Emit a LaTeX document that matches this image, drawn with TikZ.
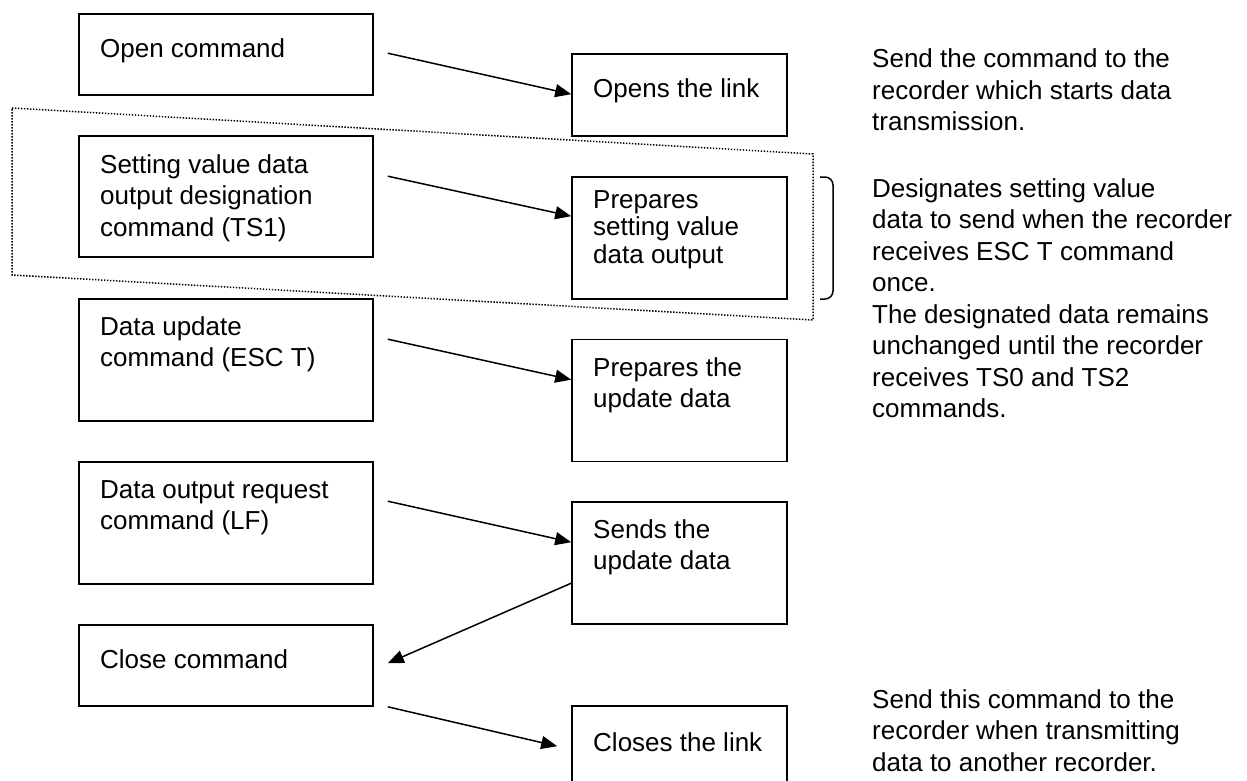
\documentclass[tikz,border=0pt]{standalone}
\usepackage{fontspec}
\setmainfont{Liberation Sans}
\usetikzlibrary{arrows.meta,calc}
\begin{document}
\begin{tikzpicture}[x=1pt,y=-1pt,
  box/.style={draw, line width=1.6pt, inner sep=0pt},
  lbox/.style={box, minimum width=294pt},
  rbox/.style={box, minimum width=215pt},
  txt/.style={anchor=base west, inner sep=0pt, align=left, font=\fontsize{26}{31.5}\selectfont},
  tighttxt/.style={txt, font=\fontsize{26}{27.5}\selectfont},
  conn/.style={line width=1.5pt, -{Triangle[length=16pt,width=13pt]}},
  dotbox/.style={line width=1.5pt, dash pattern=on 1.4pt off 1.6pt},
]
\useasboundingbox (0,0) rectangle (1247,781);
\clip (0,0) rectangle (1247,781);

% left boxes
\node[lbox, minimum height=81pt]  (L1) at (226,54.5) {};
\node[lbox, minimum height=121pt] (L2) at (226,196.5) {};
\node[lbox, minimum height=122pt] (L3) at (226,360) {};
\node[lbox, minimum height=122pt] (L4) at (226,523) {};
\node[lbox, minimum height=81pt]  (L5) at (226,665.5) {};
% right boxes
\node[rbox, minimum height=82pt]  (R1) at (679.5,95) {};
\node[rbox, minimum height=122pt] (R2) at (679.5,238) {};
\node[rbox, minimum height=122pt] (R3) at (679.5,400.5) {};
\node[rbox, minimum height=122pt] (R4) at (679.5,563) {};
\node[rbox, minimum height=81pt]  (R5) at (679.5,746.5) {};

% texts in left boxes (anchor = baseline of last line)
\node[txt] (tL1) at (100,58) {Open command};
\node[txt] (tL2) at (100,236) {Setting value data\\output designation\\command (TS1)};
\node[txt] (tL3) at (100,366.5) {Data update\\command (ESC T)};
\node[txt] (tL4) at (100,529.5) {Data output request\\command (LF)};
\node[txt] (tL5) at (100,668) {Close command};
% texts in right boxes
\node[txt] (tR1) at (593,98) {Opens the link};
\node[tighttxt] (tR2) at (593,263) {Prepares\\setting value\\data output};
\node[txt] (tR3) at (593,407.5) {Prepares the\\update data};
\node[txt] (tR4) at (593,569.5) {Sends the\\update data};
\node[txt] (tR5) at (593,751) {Closes the link};

% annotations
\node[txt] (n1) at (872,131) {Send the command to the\\recorder which starts data\\transmission.};
\node[txt] (n2) at (872,417.5) {Designates setting value\\data to send when the recorder\\receives ESC T command\\once.\\The designated data remains\\unchanged until the recorder\\receives TS0 and TS2\\commands.};
\node[txt] (n3) at (872,771) {Send this command to the\\recorder when transmitting\\data to another recorder.};

% dotted group
\draw[dotbox] (12,108) -- (813,154) -- (813,320) -- (12,275) -- cycle;
% bracket
\draw[line width=1.5pt, rounded corners=8pt] (820,177) -- (833,177) -- (833,299) -- (820,299);

% connectors
\draw[conn] ($(L1.north east)+(14,40)$) -- ($(R1.north west)+(0,41)$);
\draw[conn] ($(L2.north east)+(14,41)$) -- ($(R2.north west)+(0,40)$);
\draw[conn] ($(L3.north east)+(14,41)$) -- ($(R3.north west)+(0,41)$);
\draw[conn] ($(L4.north east)+(14,40)$) -- ($(R4.north west)+(0,41)$);
\draw[conn] ($(R4.north west)+(0,82)$) -- ($(L5.north east)+(14,39)$);
\draw[conn] ($(L5.south east)+(14,0)$) -- ($(R5.north west)+(-14,41)$);
\end{tikzpicture}
\end{document}
